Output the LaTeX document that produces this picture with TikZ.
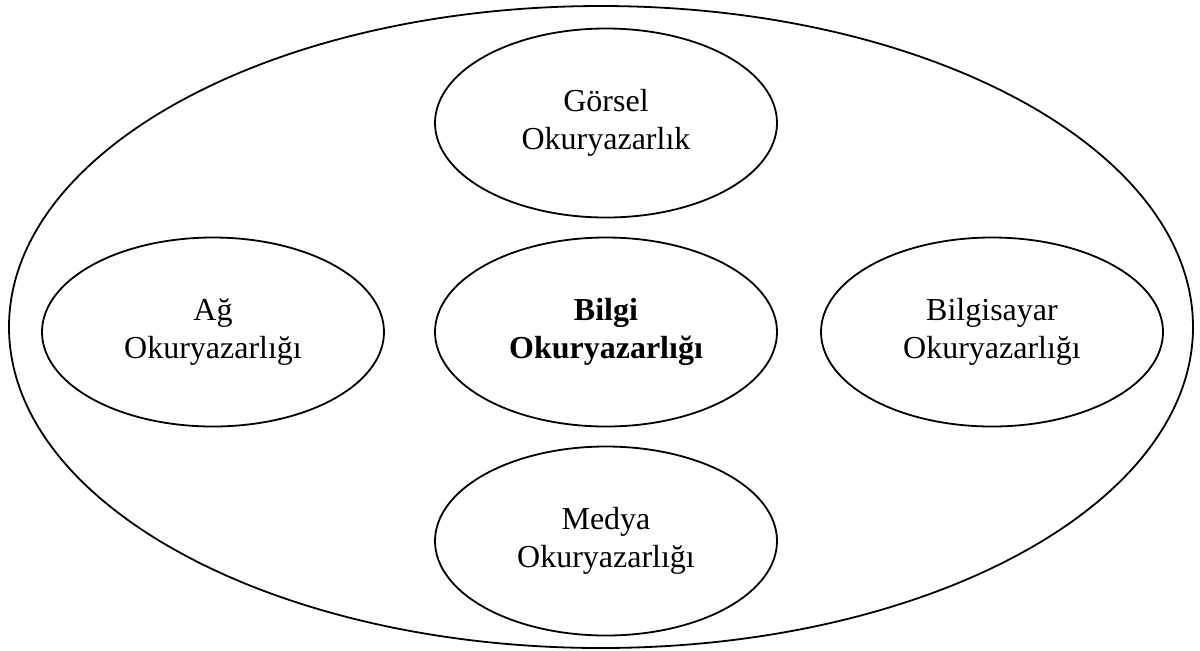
\documentclass[tikz,border=0pt]{standalone}
\usepackage{fontspec}
\setmainfont{Liberation Serif}
\usepackage{tikz}
\usetikzlibrary{shapes.geometric}

\begin{document}
\begin{tikzpicture}[x=0.5pt,y=-0.5pt,line width=0.9pt,node distance=104.5pt,
  every node/.style={font=\fontsize{16}{19}\selectfont,align=center},
  bubble/.style={draw,ellipse,minimum width=171pt,minimum height=94.5pt,inner sep=0pt}]
 %\useasboundingbox keeps the page at the reference size
 \useasboundingbox (0,0) rectangle (1200,650);

 \node[draw,ellipse,minimum width=592pt,minimum height=321pt] (outer) at (601,327) {};

 \node[bubble]        (bilgi)                                        at (606,332) {\textbf{Bilgi}\\\textbf{Okuryazarlığı}};
 \node[bubble]        (gorsel)     [above of=bilgi]                             {Görsel\\Okuryazarlık};
 \node[bubble]        (medya)      [below of=bilgi]                             {Medya\\Okuryazarlığı};
 \node[bubble]        (ag)         [left of=bilgi,node distance=196.5pt]        {Ağ\\Okuryazarlığı};
 \node[bubble]        (bilgisayar) [right of=bilgi,node distance=193pt]         {Bilgisayar\\Okuryazarlığı};
\end{tikzpicture}
\end{document}
